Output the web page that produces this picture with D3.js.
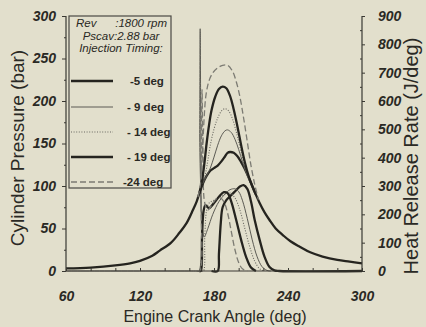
<!DOCTYPE html>
<html><head><meta charset="utf-8">
<script src="https://cdn.jsdelivr.net/npm/d3@7"></script>
<style>
html,body{margin:0;padding:0;background:#e2dfcc;}
svg{display:block;}
text{font-family:Arial,"Liberation Sans",sans-serif;fill:#2a2924;}
</style></head><body>
<svg id="c" width="426" height="327"></svg>
<script>
// ---------- data (crank angle deg, value) ----------
const xTicks = [60, 120, 180, 240, 300];
const pTicks = [0, 50, 100, 150, 200, 250, 300];
const hTicks = [0, 100, 200, 300, 400, 500, 600, 700, 800, 900];
const legendLabels = ["-5 deg", "- 9 deg", "- 14 deg", "- 19 deg", "-24 deg"];

// cylinder pressure (bar)
const pCompression = [[60,3],[80,4],[100,6.5],[112,9],[120,12],[130,18],[136,24],[145,33],[152,45],[158,57],[163,72],[166,82],[168,91]];
const pM5  = [[168,91],[171,103],[174,112],[177,118],[180,121],[183,124],[186,129],[189,135],[191,139],[193,140],[196,139],[199,135],[202,128],[205,120],[209,107],[213,93],[217,80],[221,69],[225,60],[230,50],[236,42],[242,35],[249.5,28.6],[258,22],[268,17],[280,13],[290,11],[300,9]];
const pM9  = [[171,103],[174,112],[177,121],[180,134],[183,148],[186,159],[189,165],[191,166],[194,163],[197,155],[200,143],[203,129],[206,116],[209,105],[213,93]];
const pM14 = [[169,97],[171,104],[173,114],[175,130],[177,148],[180,167],[183,180],[186,188],[189,191],[192,188],[195,179],[198,164],[201,146],[204,128],[207,113],[210,102],[213,93]];
const pM19 = [[168,91],[170,104],[172,124],[174,150],[176,172],[178,189],[181,205],[184,214],[187,217],[190,215],[193,206],[196,190],[199,170],[202,148],[205,128],[208,112],[211,100],[214,90]];
const pM24 = [[167,87],[169,102],[170.5,135],[172,180],[173.5,207],[176,224],[179,233],[183,239],[187,242],[191,242],[195,235],[198,223],[201,205],[204,180],[207,152],[210,124],[213,102],[216,84]];

// heat release rate (J/deg)
const hM5  = [[178,0],[183,0],[184,60],[185.5,170],[187,225],[190,250],[194,268],[198,285],[201,298],[204,303],[207,290],[210,245],[213,180],[217,110],[221,50],[225,14],[229,2],[233,0],[300,0]];
const hM9  = [[60,0],[166,0],[167.8,0],[168.4,500],[168.8,855],[169.3,500],[170,190],[172,120],[175,150],[179,200],[184,245],[189,272],[193,287],[197,290],[200,280],[203,250],[207,185],[211,110],[215,50],[219,15],[223,2],[226,0]];
const hM14 = [[170,0],[171.5,0],[172.5,120],[174,215],[176,240],[180,250],[185,262],[189,272],[193,275],[197,258],[201,215],[205,150],[209,85],[213,35],[217,8],[221,0]];
const hM19 = [[168,0],[169.3,0],[170.3,120],[171.5,210],[173,232],[176,222],[180,240],[184,262],[188,278],[191,275],[194,245],[198,180],[202,110],[206,50],[210,12],[214,0]];
const hM24 = [[166,0],[168.5,0],[169.5,260],[170.3,640],[171,420],[172.5,240],[175,215],[178,232],[182,255],[185,258],[188,245],[191,205],[194,140],[197,75],[200,30],[203,8],[207,0]];

// ---------- drawing ----------
const svg = d3.select("#c");
const x = d3.scaleLinear().domain([60,300]).range([66,362]);
const yP = d3.scaleLinear().domain([0,300]).range([271,16]);
const yH = d3.scaleLinear().domain([0,900]).range([271,16]);

const styles = {
  thick:  {stroke:"#25241f", width:2.3, dash:null},
  thin:   {stroke:"#5c5b54", width:1.0, dash:null},
  dotted: {stroke:"#6a6962", width:1.1, dash:"1,1.6"},
  dashed: {stroke:"#7c7b73", width:1.3, dash:"6,3"}
};
const seriesStyle = ["thick","thin","dotted","thick","dashed"];

function mkLine(ys){
  return d3.line().x(d=>x(d[0])).y(d=>ys(d[1])).curve(d3.curveCatmullRom.alpha(0.5));
}
function draw(data, ys, st){
  const s = styles[st];
  svg.append("path").datum(data).attr("d", mkLine(ys))
    .attr("fill","none").attr("stroke",s.stroke).attr("stroke-width",s.width)
    .attr("stroke-dasharray",s.dash).attr("stroke-linejoin","round");
}

// heat release curves
const hSeries = [hM5, hM9, hM14, hM19, hM24];
hSeries.forEach((d,i)=>draw(d, yH, seriesStyle[i]));
// pressure curves
draw(pCompression, yP, "thick");
const pSeries = [pM5, pM9, pM14, pM19, pM24];
pSeries.forEach((d,i)=>draw(d, yP, seriesStyle[i]));

// axes
const tickFont = g => g.selectAll("text").attr("font-size",14).attr("font-weight","bold").attr("font-style","italic").attr("fill","#26251f");
const axCol = g => { g.selectAll("path,line").attr("stroke","#3a3933"); g.select(".domain").attr("stroke-width",1.2); };

const gL = svg.append("g").attr("transform","translate(66,0)")
  .call(d3.axisLeft(yP).tickValues(pTicks).tickSize(4).tickPadding(6).tickFormat(d3.format("d")))
  .call(tickFont).call(axCol);
gL.select(".domain").attr("d","M0,271V16");
svg.append("g").attr("transform","translate(66,0)")
  .call(d3.axisLeft(yP).tickValues(d3.range(25,300,50)).tickSize(2).tickFormat(""))
  .call(axCol).select(".domain").remove();

const gR = svg.append("g").attr("transform","translate(362,0)")
  .call(d3.axisRight(yH).tickValues(hTicks).tickSize(3).tickPadding(13).tickFormat(d3.format("d")))
  .call(tickFont).call(axCol);
gR.select(".domain").attr("d","M0,271V16");
svg.append("g").attr("transform","translate(362,0)")
  .call(d3.axisLeft(yH).tickValues(d3.range(50,900,100)).tickSize(2).tickFormat(""))
  .call(axCol).select(".domain").remove();

const gB = svg.append("g").attr("transform","translate(0,271)")
  .call(d3.axisBottom(x).tickValues(xTicks).tickSize(0).tickPadding(20).tickFormat(d3.format("d")))
  .call(tickFont).call(axCol);
gB.select(".domain").attr("d","M66,0H362");
svg.append("g").attr("transform","translate(0,271)")
  .call(d3.axisTop(x).tickValues(d3.range(60,301,20)).tickSize(3).tickFormat(""))
  .call(axCol).select(".domain").remove();

// axis titles
svg.append("text").attr("x",215).attr("y",322).attr("text-anchor","middle")
  .attr("font-size",16).text("Engine Crank Angle (deg)");
svg.append("text").attr("transform","translate(24,148) rotate(-90)").attr("text-anchor","middle")
  .attr("font-size",19).text("Cylinder Pressure (bar)");
svg.append("text").attr("transform","translate(418,156) rotate(-90)").attr("text-anchor","middle")
  .attr("font-size",20).text("Heat Release Rate (J/deg)");

// legend
const lg = svg.append("g");
lg.append("rect").attr("x",69).attr("y",16).attr("width",102).attr("height",172)
  .attr("fill","none").attr("stroke","#4a4943").attr("stroke-width",1.2);
const it = {"font-size":11.5,"font-style":"italic"};
function t(xp,yp,str,anchor){ const e=lg.append("text").attr("x",xp).attr("y",yp).attr("text-anchor",anchor||"start").text(str); Object.entries(it).forEach(([k,v])=>e.attr(k,v)); return e; }
t(76,27,"Rev"); t(167,27,":1800 rpm","end");
t(121,39.5,"Pscav:2.88 bar","middle");
t(121,52,"Injection Timing:","middle");
const ly = [81,107,132,157,182];
legendLabels.forEach((lab,i)=>{
  const s = styles[seriesStyle[i]];
  lg.append("line").attr("x1",71).attr("x2",113).attr("y1",ly[i]).attr("y2",ly[i])
    .attr("stroke",s.stroke).attr("stroke-width",s.width).attr("stroke-dasharray",s.dash);
  lg.append("text").attr("x",i===0?130:(i===4?123:127)).attr("y",ly[i]+4)
    .attr("font-size",11.5).attr("font-weight","bold").text(lab);
});
</script>
</body></html>
